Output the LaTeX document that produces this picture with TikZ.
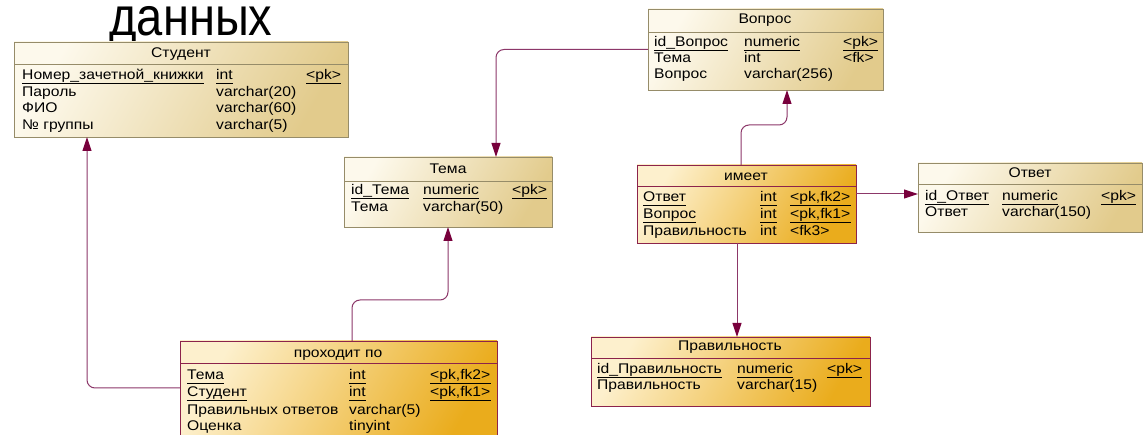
\documentclass[tikz,border=0pt]{standalone}
\usepackage{fontspec}
\setmainfont{Liberation Sans}[FakeStretch=1.12]
\newfontfamily\titlefont{Liberation Sans}
\usetikzlibrary{arrows.meta,calc}
\definecolor{ltop}{RGB}{253,249,236}
\definecolor{lbot}{RGB}{226,203,140}
\definecolor{gtop}{RGB}{253,240,205}
\definecolor{gbot}{RGB}{234,172,28}
\definecolor{lborder}{RGB}{150,140,105}
\definecolor{gborder}{RGB}{140,35,75}
\definecolor{conncol}{RGB}{140,55,105}
\definecolor{tipcol}{RGB}{120,0,60}
\newcommand\cells[8]{%
  \node[cell] (#1a) at (#3,#2) {#4};
  \node[cell] (#1b) at (#5,#2) {#6};
  \node[cell] (#1c) at (#7,#2) {#8};}
\newcommand\ucells[8]{%
  \cells{#1}{#2}{#3}{#4}{#5}{#6}{#7}{#8}%
  \draw[uline] ($(#1a.base west)+(0,3)$) -- ($(#1a.base east)+(0,3)$);
  \draw[uline] ($(#1b.base west)+(0,3)$) -- ($(#1b.base east)+(0,3)$);
  \draw[uline] ($(#1c.base west)+(0,3)$) -- ($(#1c.base east)+(0,3)$);}
\tikzset{
  cell/.style={anchor=base west, inner sep=0pt, font=\fontsize{14pt}{16pt}\selectfont},
  hdr/.style={anchor=base, inner sep=0pt, font=\fontsize{14pt}{16pt}\selectfont},
  uline/.style={draw=black, line width=0.7pt},
  lbox/.style={draw=lborder, line width=0.8pt, top color=ltop, bottom color=lbot, shading angle=60, anchor=north west, inner sep=0pt, outer sep=0pt},
  gbox/.style={draw=gborder, line width=0.8pt, top color=gtop, bottom color=gbot, shading angle=60, anchor=north west, inner sep=0pt, outer sep=0pt},
  lsep/.style={draw=lborder, line width=0.8pt},
  gsep/.style={draw=gborder, line width=0.8pt},
  conn/.style={draw=conncol, line width=1pt, rounded corners=8pt, -{Triangle[length=14pt,width=9pt,color=tipcol]}},
}
\begin{document}
\begin{tikzpicture}[x=1pt,y=-1pt]
\useasboundingbox (0,0) rectangle (1146,435);
\fill[white] (0,0) rectangle (1146,435);
% title
\node[anchor=base, inner sep=0pt] (title) at (191,36) {\resizebox{163pt}{\height}{\titlefont\fontsize{54pt}{54pt}\selectfont данных}};
% boxes
\node[lbox, minimum width=334pt, minimum height=95pt] (stud) at (14,42) {};
\node[lbox, minimum width=235pt, minimum height=81pt] (vop) at (648,9) {};
\node[lbox, minimum width=208pt, minimum height=70pt] (tema) at (344,157) {};
\node[gbox, minimum width=219pt, minimum height=78pt] (imeet) at (637,165) {};
\node[lbox, minimum width=224pt, minimum height=69pt] (otv) at (918,163) {};
\node[gbox, minimum width=317pt, minimum height=105pt] (proh) at (180,341) {};
\node[gbox, minimum width=279pt, minimum height=69pt] (prav) at (591,337) {};
% header separators
\draw[lsep] ($(stud.north west)+(0,22)$) -- ($(stud.north east)+(0,22)$);
\draw[lsep] ($(vop.north west)+(0,23)$) -- ($(vop.north east)+(0,23)$);
\draw[lsep] ($(tema.north west)+(0,24)$) -- ($(tema.north east)+(0,24)$);
\draw[gsep] ($(imeet.north west)+(0,21)$) -- ($(imeet.north east)+(0,21)$);
\draw[lsep] ($(otv.north west)+(0,21)$) -- ($(otv.north east)+(0,21)$);
\draw[gsep] ($(proh.north west)+(0,22)$) -- ($(proh.north east)+(0,22)$);
\draw[gsep] ($(prav.north west)+(0,21)$) -- ($(prav.north east)+(0,21)$);
% Студент
\node[hdr] (studh) at (181,58) {Студент};
\ucells{s1}{80}{22}{Номер\_зачетной\_книжки}{216}{int}{306}{<pk>}
\cells{s2}{97}{22}{Пароль}{216}{varchar(20)}{306}{}
\cells{s3}{113}{22}{ФИО}{216}{varchar(60)}{306}{}
\cells{s4}{130}{22}{№ группы}{216}{varchar(5)}{306}{}
% Вопрос
\node[hdr] (voph) at (765,24) {Вопрос};
\ucells{v1}{47}{654}{id\_Вопрос}{744}{numeric}{843}{<pk>}
\cells{v2}{63}{654}{Тема}{744}{int}{843}{<fk>}
\cells{v3}{79}{654}{Вопрос}{744}{varchar(256)}{843}{}
% Тема
\node[hdr] (temah) at (448,174) {Тема};
\ucells{t1}{195}{351}{id\_Тема}{423}{numeric}{512}{<pk>}
\cells{t2}{212}{351}{Тема}{423}{varchar(50)}{512}{}
% имеет
\node[hdr] (imeeth) at (746,181) {имеет};
\ucells{i1}{202}{643}{Ответ}{760}{int}{790}{<pk,fk2>}
\ucells{i2}{219}{643}{Вопрос}{760}{int}{790}{<pk,fk1>}
\cells{i3}{236}{643}{Правильность}{760}{int}{790}{<fk3>}
% Ответ
\node[hdr] (otvh) at (1030,178) {Ответ};
\ucells{o1}{201}{925}{id\_Ответ}{1002}{numeric}{1101}{<pk>}
\cells{o2}{217}{925}{Ответ}{1002}{varchar(150)}{1101}{}
% проходит по
\node[hdr] (prohh) at (338,358) {проходит по};
\ucells{p1}{380}{187}{Тема}{349}{int}{430}{<pk,fk2>}
\ucells{p2}{397}{187}{Студент}{349}{int}{430}{<pk,fk1>}
\cells{p3}{414}{187}{Правильных ответов}{349}{varchar(5)}{430}{}
\cells{p4}{431}{187}{Оценка}{349}{tinyint}{430}{}
% Правильность
\node[hdr] (pravh) at (730,351) {Правильность};
\ucells{r1}{374}{597}{id\_Правильность}{737}{numeric}{827}{<pk>}
\cells{r2}{390}{597}{Правильность}{737}{varchar(15)}{827}{}
% connectors
\coordinate (m2) at (400,300);
\coordinate (m4) at (765,125);
\draw[conn] (vop.west) -| ($(tema.north west)+(152,0)$);
\draw[conn] ($(proh.north west)+(172,0)$) |- (m2) -| (tema.south);
\draw[conn] ($(proh.north west)+(0,47)$) -| ($(stud.south west)+(73,0)$);
\draw[conn] ($(imeet.north west)+(104,0)$) |- (m4) -| ($(vop.south west)+(139,0)$);
\draw[conn] ($(imeet.north east)+(0,29)$) -- ($(otv.north west)+(0,31)$);
\draw[conn] ($(imeet.south west)+(100,0)$) -- ($(prav.north west)+(146,0)$);
\end{tikzpicture}
\end{document}
